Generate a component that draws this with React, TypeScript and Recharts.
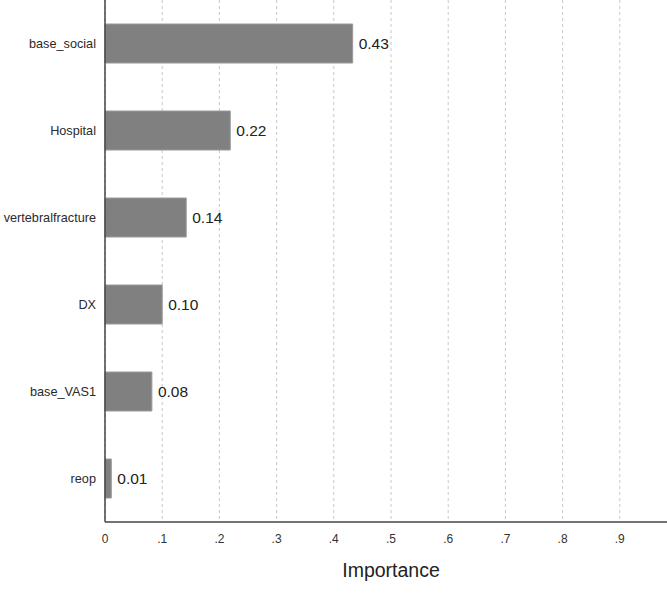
import React from "react";
import { BarChart, Bar, XAxis, YAxis, CartesianGrid, LabelList } from "recharts";

const features = ["base_social", "Hospital", "vertebralfracture", "DX", "base_VAS1", "reop"];
const importance = [0.433, 0.219, 0.142, 0.1, 0.082, 0.011];
const xTicks = [0, 0.1, 0.2, 0.3, 0.4, 0.5, 0.6, 0.7, 0.8, 0.9];

const data = features.map((name, i) => ({ name, value: importance[i] }));

const FONT = '"Liberation Sans", Arial, Helvetica, sans-serif';

const fmtX = (v: number) => (v === 0 ? "0" : String(Math.round(v * 10) / 10).replace(/^0/, ""));

export default function App() {
  return (
    <div
      style={{
        position: "absolute",
        left: 0,
        top: 0,
        width: 667,
        height: 607,
        overflow: "hidden",
        background: "#fff",
        fontFamily: FONT,
      }}
    >
      <BarChart
        width={687}
        height={607}
        data={data}
        layout="vertical"
        margin={{ top: 0, right: 10, bottom: 0, left: 0 }}
        barCategoryGap={0}
      >
        <CartesianGrid horizontal={false} strokeDasharray="3 3" stroke="#c8c8c8" />
        <XAxis
          type="number"
          domain={[0, 1]}
          ticks={xTicks}
          tickFormatter={fmtX}
          height={85}
          axisLine={{ stroke: "#444", strokeWidth: 1.5 }}
          tickLine={false}
          tickSize={6}
          tickMargin={6}
          tick={{ fill: "#333", fontSize: 12, fontFamily: FONT }}
          interval={0}
          label={{
            value: "Importance",
            position: "insideBottom",
            offset: 30,
            fill: "#222",
            fontSize: 19.5,
            fontFamily: FONT,
          }}
        />
        <YAxis
          type="category"
          dataKey="name"
          width={105}
          axisLine={{ stroke: "#444", strokeWidth: 1.5 }}
          tickLine={false}
          tickSize={6}
          tickMargin={3}
          tick={{ fill: "#2a2a2a", fontSize: 12.7, fontFamily: FONT }}
          interval={0}
        />
        <Bar
          dataKey="value"
          fill="#808080"
          stroke="#9a9a9a"
          strokeWidth={1}
          barSize={39}
          isAnimationActive={false}
        >
          <LabelList
            dataKey="value"
            position="right"
            offset={6}
            formatter={(v: number) => v.toFixed(2)}
            style={{ fill: "#222", fontSize: 15.5, fontFamily: FONT }}
          />
        </Bar>
      </BarChart>
    </div>
  );
}
